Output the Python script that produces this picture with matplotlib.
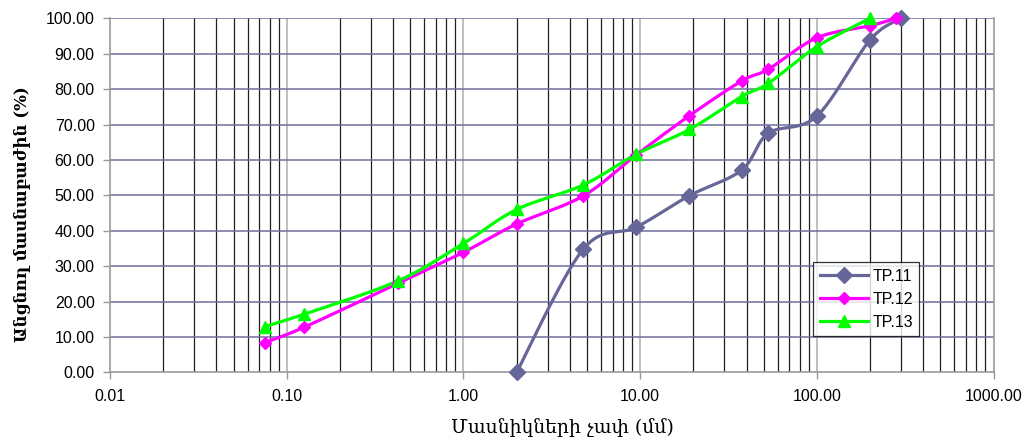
import numpy as np
import matplotlib
matplotlib.use("Agg")
import matplotlib.pyplot as plt
from matplotlib.ticker import FixedLocator, NullFormatter, FuncFormatter

# sieve sizes (mm) and percent passing
x_tp11 = [2.0, 4.75, 9.5, 19.0, 37.5, 53.0, 100.0, 200.0, 300.0]
y_tp11 = [0.0, 34.7, 41.0, 49.9, 57.1, 67.5, 72.4, 93.9, 100.0]

x_tp12 = [0.075, 0.125, 0.425, 1.0, 2.0, 4.75, 9.5, 19.0, 37.5, 53.0, 100.0, 200.0, 280.0]
y_tp12 = [8.4, 12.7, 25.1, 33.9, 41.9, 49.8, 61.4, 72.5, 82.3, 85.6, 94.5, 97.9, 100.0]

x_tp13 = [0.075, 0.125, 0.425, 1.0, 2.0, 4.75, 9.5, 19.0, 37.5, 53.0, 100.0, 200.0]
y_tp13 = [12.9, 16.4, 25.8, 36.4, 46.0, 52.9, 61.6, 68.6, 77.9, 81.6, 92.0, 100.0]

series = [
    ("TP.11", x_tp11, y_tp11, "#666699", "D", 8),
    ("TP.12", x_tp12, y_tp12, "#ff00ff", "D", 6),
    ("TP.13", x_tp13, y_tp13, "#00ff00", "^", 8),
]

W, H = 892.0, 354.0  # plot area in pixels, used to smooth in screen space


def smooth(xs, ys, n=30):
    # Bezier smoothing through the points (Catmull-Rom style, tension 1/6)
    u = (np.log10(xs) + 2) / 5 * W
    v = np.asarray(ys) / 100 * H
    p = np.column_stack([u, v])
    out = [p[0]]
    t = np.linspace(0, 1, n)[1:, None]
    for i in range(len(p) - 1):
        p0 = p[i - 1] if i > 0 else p[i]
        p3 = p[i + 2] if i + 2 < len(p) else p[i + 1]
        p1, p2 = p[i], p[i + 1]
        c1 = p1 + (p2 - p0) / 6
        c2 = p2 - (p3 - p1) / 6
        seg = ((1 - t) ** 3 * p1 + 3 * (1 - t) ** 2 * t * c1
               + 3 * (1 - t) * t ** 2 * c2 + t ** 3 * p2)
        out.extend(seg)
    out = np.array(out)
    return 10 ** (out[:, 0] / W * 5 - 2), out[:, 1] / H * 100


plt.rcParams["font.family"] = ["Liberation Sans", "DejaVu Sans"]
arm = ["DejaVu Serif", "DejaVu Sans"]

fig = plt.figure(figsize=(10.31, 4.43), dpi=100)
ax = fig.add_axes([0.1067, 0.1596, 0.857, 0.799])
ax.set_xscale("log")
ax.set_xlim(0.01, 1000)
ax.set_ylim(0, 100)

# grid: black minor verticals, gray decade lines, navy horizontals
minors = [m * 10.0 ** e for e in range(-2, 3) for m in range(2, 10)]
for xv in minors:
    ax.axvline(xv, color="#202020", lw=0.9, zorder=1)
for xv in [0.1, 1, 10, 100]:
    ax.axvline(xv, color="#b4b4b4", lw=1.2, zorder=1)
for yv in range(10, 101, 10):
    ax.axhline(yv, color="#6e6e9c", lw=1.1, zorder=1)

for name, xs, ys, col, mk, ms in series:
    sx, sy = smooth(xs, ys)
    ax.plot(sx, sy, color=col, lw=2.3, zorder=3, clip_on=False)
    ax.plot(xs, ys, ls="none", marker=mk, color=col, ms=ms, zorder=4,
            clip_on=False)

# legend proxies
handles = [plt.Line2D([], [], color=c, lw=2.3, marker=m, ms=s)
           for _, _, _, c, m, s in series]
leg = ax.legend(handles, [s[0] for s in series], loc="lower right",
                bbox_to_anchor=(0.916, 0.1025), fontsize=11.5, frameon=True,
                fancybox=False, edgecolor="black", handlelength=3.0,
                handletextpad=0.3, borderpad=0.4, labelspacing=0.5,
                borderaxespad=0)
leg.get_frame().set_linewidth(0.9)
leg.set_zorder(5)

ax.xaxis.set_major_locator(FixedLocator([0.01, 0.1, 1, 10, 100, 1000]))
ax.xaxis.set_minor_locator(FixedLocator(minors))
ax.xaxis.set_minor_formatter(NullFormatter())
ax.xaxis.set_major_formatter(FuncFormatter(lambda v, p: f"{v:.2f}"))
ax.set_yticks(range(0, 101, 10))
ax.yaxis.set_major_formatter(FuncFormatter(lambda v, p: f"{v:.2f}"))
ax.tick_params(axis="both", which="major", labelsize=11.5, color="#999999",
               length=5, width=1)
ax.tick_params(axis="x", which="minor", length=0)
ax.tick_params(axis="x", pad=7)
ax.tick_params(axis="y", pad=6)

ax.spines["top"].set_visible(False)
for side in ["left", "bottom", "right"]:
    ax.spines[side].set_color("#999999")
    ax.spines[side].set_linewidth(1.2)

fig.text(562 / 1031, 1 - 428 / 443, "Մասնիկների չափ (մմ)", fontsize=13.5,
         family=arm, ha="center", va="center")
fig.text(22 / 1031, 1 - 214 / 443, "Անցնող մասնաբաժին (%)", fontsize=12,
         fontweight="bold", family=arm, rotation=90, ha="center", va="center")

fig.savefig("out.png", dpi=100)
